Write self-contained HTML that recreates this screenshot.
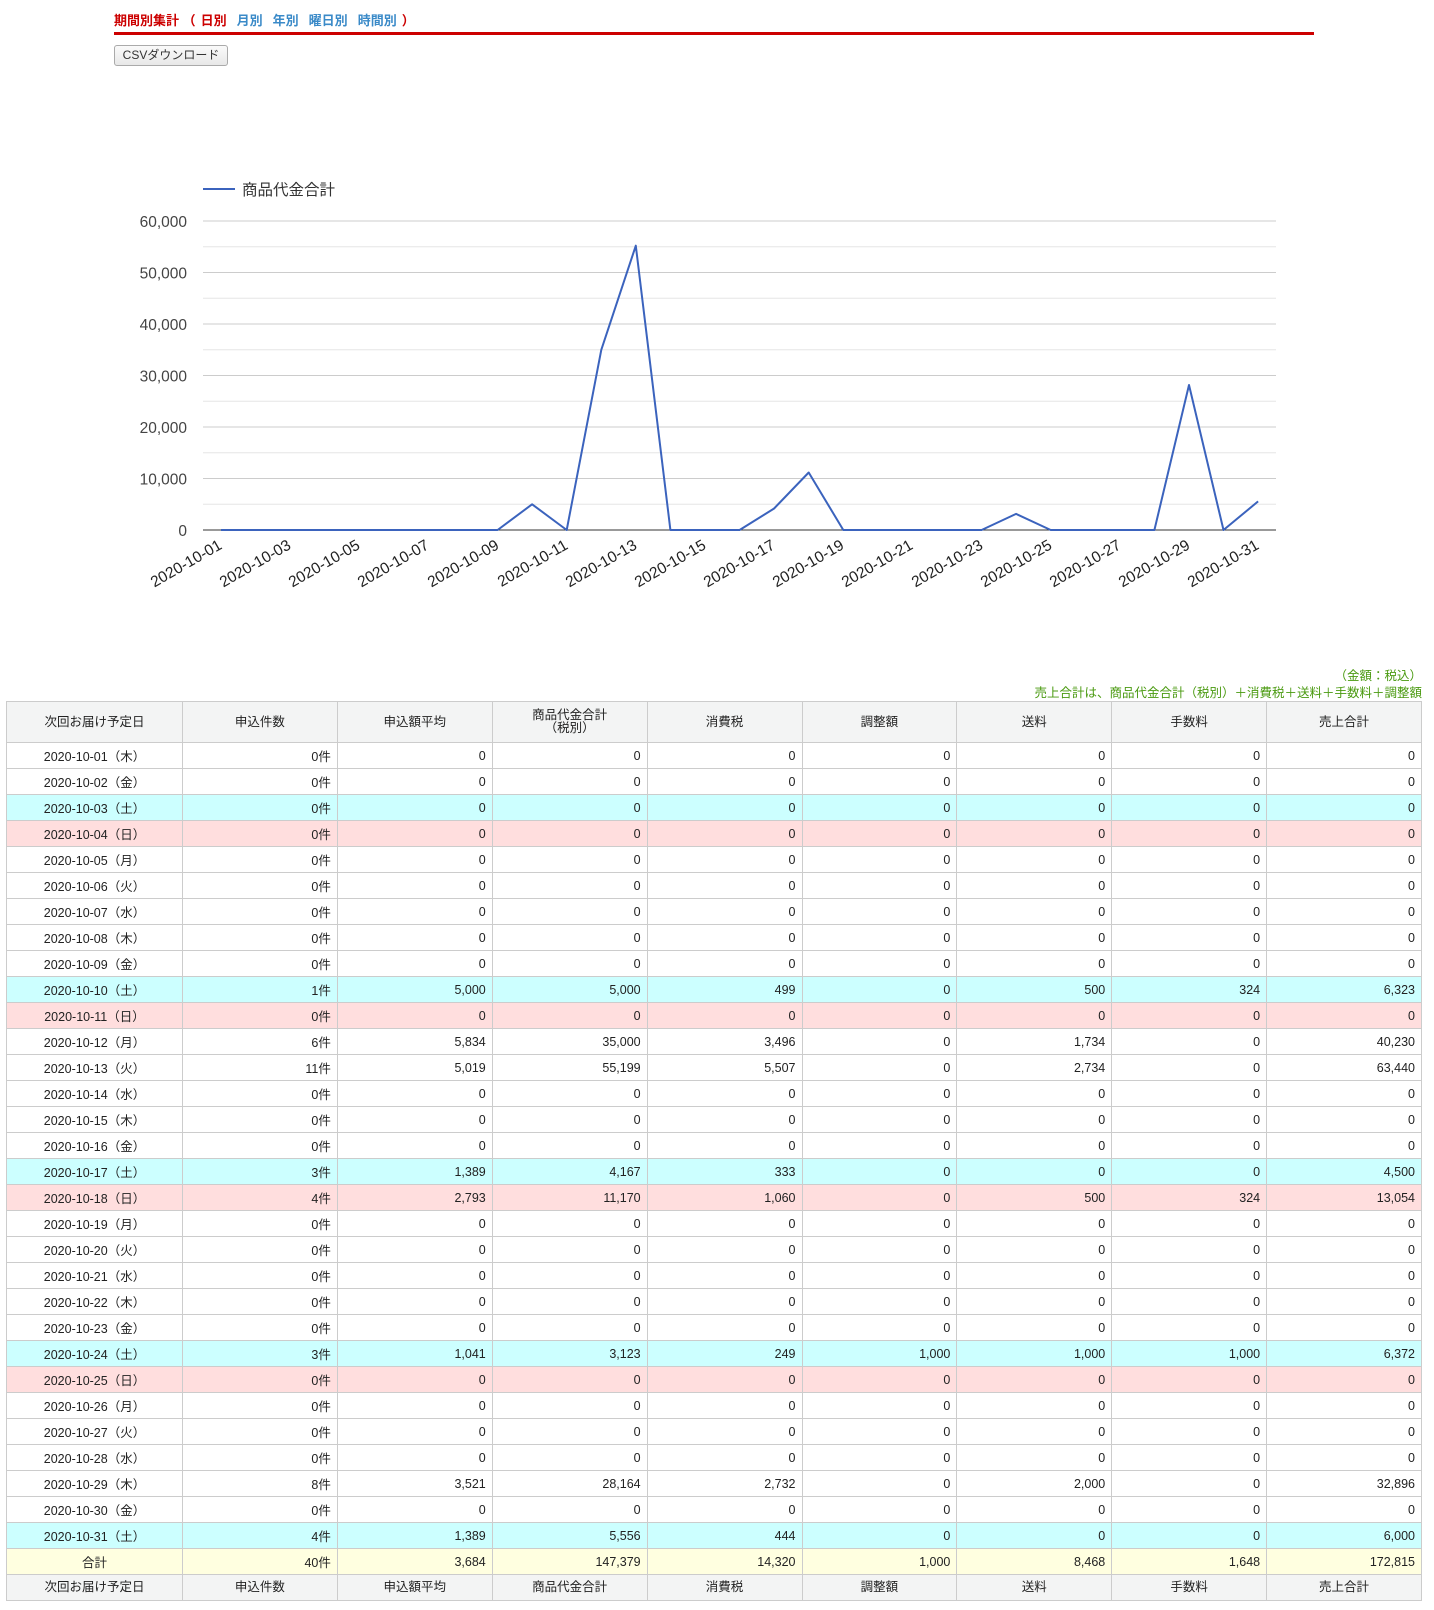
<!DOCTYPE html>
<html><head><meta charset="utf-8">
<style>
body{margin:0;width:1434px;height:1610px;background:#fff;font-family:"Liberation Sans","Noto Sans CJK JP",sans-serif;position:relative;overflow:hidden}
.title{position:absolute;left:114px;top:10px;font-size:13px;font-weight:bold;color:#c00;letter-spacing:0}
.title a{color:#3a8ac8;margin:0 5px}
.title .cur{color:#c00}
.rule{position:absolute;left:114px;top:32px;width:1200px;height:3px;background:#c00}
.btn{position:absolute;left:114px;top:45px;width:112px;height:19px;border:1px solid #aaa;border-radius:3px;background:linear-gradient(#fafafa,#e8e8e8);font-size:12px;color:#333;text-align:center;line-height:19px}
.note{position:absolute;right:12px;font-size:12.5px;color:#4a9a10;text-align:right}
table{position:absolute;left:6px;top:701px;width:1416px;border-collapse:collapse;font-size:12.5px;color:#222;table-layout:fixed}
td,th{border:1px solid #ccc;height:25px;padding:0 6px;text-align:right;white-space:nowrap}
th{font-weight:normal;background:#f3f4f4;text-align:center;height:40px;line-height:13px}
tr.f th{height:25px}
td:first-child{text-align:center}
tr.s td{background:#ccffff}
tr.u td{background:#ffdede}
tr.t td{background:#ffffe0}
</style></head><body>
<div class="title">期間別集計 （<a class="cur">日別</a><a>月別</a><a>年別</a><a>曜日別</a><a>時間別</a>）</div>
<div class="rule"></div>
<div class="btn">CSVダウンロード</div>
<svg style="position:absolute;left:0;top:0" width="1434" height="620" font-family="Liberation Sans, Arial, sans-serif">
<line x1="203" y1="189" x2="235" y2="189" stroke="#3b63bd" stroke-width="2"/>
<text x="242" y="195" font-size="15.5" fill="#333" font-family="Liberation Sans, Noto Sans CJK JP, sans-serif">商品代金合計</text>
<g stroke="#e6e6e6" stroke-width="1">
<line x1="203" x2="1276" y1="504.3" y2="504.3"/><line x1="203" x2="1276" y1="452.8" y2="452.8"/><line x1="203" x2="1276" y1="401.3" y2="401.3"/><line x1="203" x2="1276" y1="349.8" y2="349.8"/><line x1="203" x2="1276" y1="298.3" y2="298.3"/><line x1="203" x2="1276" y1="246.8" y2="246.8"/>
</g>
<g stroke="#ccc" stroke-width="1">
<line x1="203" x2="1276" y1="478.5" y2="478.5"/><line x1="203" x2="1276" y1="427" y2="427"/><line x1="203" x2="1276" y1="375.5" y2="375.5"/><line x1="203" x2="1276" y1="324" y2="324"/><line x1="203" x2="1276" y1="272.5" y2="272.5"/><line x1="203" x2="1276" y1="221" y2="221"/>
</g>
<line x1="203" x2="1276" y1="530" y2="530" stroke="#333" stroke-width="1"/>
<g font-size="15.5" fill="#444" text-anchor="end">
<text x="187" y="536">0</text><text x="187" y="484.5">10,000</text><text x="187" y="433">20,000</text><text x="187" y="381.5">30,000</text><text x="187" y="330">40,000</text><text x="187" y="278.5">50,000</text><text x="187" y="227">60,000</text>
</g>
<polyline fill="none" stroke="#3b63bd" stroke-width="2" stroke-linejoin="round" points="221,530 497.6,530 532.1,504.3 566.7,530 601.3,349.8 635.8,245.7 670.4,530 739.6,530 774.1,508.5 808.7,472.5 843.3,530 981.6,530 1016.1,513.9 1050.7,530 1154.4,530 1189,385 1223.5,530 1258.1,501.4"/>
<g font-size="15.5" fill="#222" text-anchor="end">
<text transform="translate(223,548) rotate(-30)">2020-10-01</text>
<text transform="translate(292,548) rotate(-30)">2020-10-03</text>
<text transform="translate(361,548) rotate(-30)">2020-10-05</text>
<text transform="translate(430,548) rotate(-30)">2020-10-07</text>
<text transform="translate(500,548) rotate(-30)">2020-10-09</text>
<text transform="translate(569,548) rotate(-30)">2020-10-11</text>
<text transform="translate(638,548) rotate(-30)">2020-10-13</text>
<text transform="translate(707,548) rotate(-30)">2020-10-15</text>
<text transform="translate(776,548) rotate(-30)">2020-10-17</text>
<text transform="translate(845,548) rotate(-30)">2020-10-19</text>
<text transform="translate(914,548) rotate(-30)">2020-10-21</text>
<text transform="translate(984,548) rotate(-30)">2020-10-23</text>
<text transform="translate(1053,548) rotate(-30)">2020-10-25</text>
<text transform="translate(1122,548) rotate(-30)">2020-10-27</text>
<text transform="translate(1191,548) rotate(-30)">2020-10-29</text>
<text transform="translate(1260,548) rotate(-30)">2020-10-31</text>
</g>
</svg>
<div class="note" style="top:665px">（金額：税込）</div>
<div class="note" style="top:682px">売上合計は、商品代金合計（税別）＋消費税＋送料＋手数料＋調整額</div>
<table>
<colgroup><col style="width:176px"><col><col><col><col><col><col><col><col></colgroup>
<tr><th>次回お届け予定日</th><th>申込件数</th><th>申込額平均</th><th>商品代金合計<br>（税別）</th><th>消費税</th><th>調整額</th><th>送料</th><th>手数料</th><th>売上合計</th></tr>
<tr><td>2020-10-01（木）</td><td>0件</td><td>0</td><td>0</td><td>0</td><td>0</td><td>0</td><td>0</td><td>0</td></tr>
<tr><td>2020-10-02（金）</td><td>0件</td><td>0</td><td>0</td><td>0</td><td>0</td><td>0</td><td>0</td><td>0</td></tr>
<tr class="s"><td>2020-10-03（土）</td><td>0件</td><td>0</td><td>0</td><td>0</td><td>0</td><td>0</td><td>0</td><td>0</td></tr>
<tr class="u"><td>2020-10-04（日）</td><td>0件</td><td>0</td><td>0</td><td>0</td><td>0</td><td>0</td><td>0</td><td>0</td></tr>
<tr><td>2020-10-05（月）</td><td>0件</td><td>0</td><td>0</td><td>0</td><td>0</td><td>0</td><td>0</td><td>0</td></tr>
<tr><td>2020-10-06（火）</td><td>0件</td><td>0</td><td>0</td><td>0</td><td>0</td><td>0</td><td>0</td><td>0</td></tr>
<tr><td>2020-10-07（水）</td><td>0件</td><td>0</td><td>0</td><td>0</td><td>0</td><td>0</td><td>0</td><td>0</td></tr>
<tr><td>2020-10-08（木）</td><td>0件</td><td>0</td><td>0</td><td>0</td><td>0</td><td>0</td><td>0</td><td>0</td></tr>
<tr><td>2020-10-09（金）</td><td>0件</td><td>0</td><td>0</td><td>0</td><td>0</td><td>0</td><td>0</td><td>0</td></tr>
<tr class="s"><td>2020-10-10（土）</td><td>1件</td><td>5,000</td><td>5,000</td><td>499</td><td>0</td><td>500</td><td>324</td><td>6,323</td></tr>
<tr class="u"><td>2020-10-11（日）</td><td>0件</td><td>0</td><td>0</td><td>0</td><td>0</td><td>0</td><td>0</td><td>0</td></tr>
<tr><td>2020-10-12（月）</td><td>6件</td><td>5,834</td><td>35,000</td><td>3,496</td><td>0</td><td>1,734</td><td>0</td><td>40,230</td></tr>
<tr><td>2020-10-13（火）</td><td>11件</td><td>5,019</td><td>55,199</td><td>5,507</td><td>0</td><td>2,734</td><td>0</td><td>63,440</td></tr>
<tr><td>2020-10-14（水）</td><td>0件</td><td>0</td><td>0</td><td>0</td><td>0</td><td>0</td><td>0</td><td>0</td></tr>
<tr><td>2020-10-15（木）</td><td>0件</td><td>0</td><td>0</td><td>0</td><td>0</td><td>0</td><td>0</td><td>0</td></tr>
<tr><td>2020-10-16（金）</td><td>0件</td><td>0</td><td>0</td><td>0</td><td>0</td><td>0</td><td>0</td><td>0</td></tr>
<tr class="s"><td>2020-10-17（土）</td><td>3件</td><td>1,389</td><td>4,167</td><td>333</td><td>0</td><td>0</td><td>0</td><td>4,500</td></tr>
<tr class="u"><td>2020-10-18（日）</td><td>4件</td><td>2,793</td><td>11,170</td><td>1,060</td><td>0</td><td>500</td><td>324</td><td>13,054</td></tr>
<tr><td>2020-10-19（月）</td><td>0件</td><td>0</td><td>0</td><td>0</td><td>0</td><td>0</td><td>0</td><td>0</td></tr>
<tr><td>2020-10-20（火）</td><td>0件</td><td>0</td><td>0</td><td>0</td><td>0</td><td>0</td><td>0</td><td>0</td></tr>
<tr><td>2020-10-21（水）</td><td>0件</td><td>0</td><td>0</td><td>0</td><td>0</td><td>0</td><td>0</td><td>0</td></tr>
<tr><td>2020-10-22（木）</td><td>0件</td><td>0</td><td>0</td><td>0</td><td>0</td><td>0</td><td>0</td><td>0</td></tr>
<tr><td>2020-10-23（金）</td><td>0件</td><td>0</td><td>0</td><td>0</td><td>0</td><td>0</td><td>0</td><td>0</td></tr>
<tr class="s"><td>2020-10-24（土）</td><td>3件</td><td>1,041</td><td>3,123</td><td>249</td><td>1,000</td><td>1,000</td><td>1,000</td><td>6,372</td></tr>
<tr class="u"><td>2020-10-25（日）</td><td>0件</td><td>0</td><td>0</td><td>0</td><td>0</td><td>0</td><td>0</td><td>0</td></tr>
<tr><td>2020-10-26（月）</td><td>0件</td><td>0</td><td>0</td><td>0</td><td>0</td><td>0</td><td>0</td><td>0</td></tr>
<tr><td>2020-10-27（火）</td><td>0件</td><td>0</td><td>0</td><td>0</td><td>0</td><td>0</td><td>0</td><td>0</td></tr>
<tr><td>2020-10-28（水）</td><td>0件</td><td>0</td><td>0</td><td>0</td><td>0</td><td>0</td><td>0</td><td>0</td></tr>
<tr><td>2020-10-29（木）</td><td>8件</td><td>3,521</td><td>28,164</td><td>2,732</td><td>0</td><td>2,000</td><td>0</td><td>32,896</td></tr>
<tr><td>2020-10-30（金）</td><td>0件</td><td>0</td><td>0</td><td>0</td><td>0</td><td>0</td><td>0</td><td>0</td></tr>
<tr class="s"><td>2020-10-31（土）</td><td>4件</td><td>1,389</td><td>5,556</td><td>444</td><td>0</td><td>0</td><td>0</td><td>6,000</td></tr>
<tr class="t"><td>合計</td><td>40件</td><td>3,684</td><td>147,379</td><td>14,320</td><td>1,000</td><td>8,468</td><td>1,648</td><td>172,815</td></tr>
<tr class="f"><th>次回お届け予定日</th><th>申込件数</th><th>申込額平均</th><th>商品代金合計</th><th>消費税</th><th>調整額</th><th>送料</th><th>手数料</th><th>売上合計</th></tr>
</table>
</body></html>
